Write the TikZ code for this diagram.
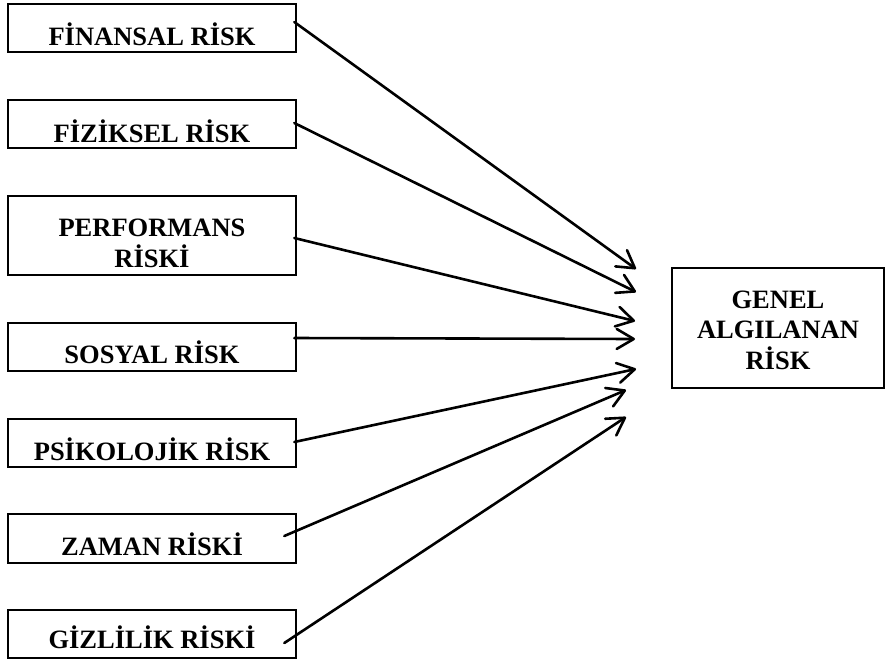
\documentclass[tikz,border=0pt]{standalone}
\usepackage{fontspec}
\setmainfont{Liberation Serif}
\usetikzlibrary{arrows.meta}
\begin{document}
\begin{tikzpicture}[x=1pt,y=-1pt,
  box/.style={draw, line width=2.6pt, inner sep=0pt, minimum width=288pt, minimum height=48pt},
  lbl/.style={font=\bfseries\fontsize{26.5}{30.5}\selectfont, anchor=base, inner sep=0pt, align=center},
  arr/.style={line width=2.6pt, line join=round, line cap=round, -{Straight Barb[length=17pt,width=20pt,round]}}]
\useasboundingbox (0,0) rectangle (886,659);
% boxes
\node[box] (b1) at (152,28) {};
\node[box] (b2) at (152,124) {};
\node[box, minimum height=79pt] (b3) at (152,235.5) {};
\node[box] (b4) at (152,347) {};
\node[box] (b5) at (152,443) {};
\node[box, minimum height=49pt] (b6) at (152,538.5) {};
\node[box] (b7) at (152,634) {};
\node[box, minimum width=212pt, minimum height=120pt] (g) at (778,328) {};
% labels
\node[lbl] (l1) at (152,45) {FİNANSAL RİSK};
\node[lbl] (l2) at (152,142) {FİZİKSEL RİSK};
\node[lbl] (l3) at (152,267) {PERFORMANS\\RİSKİ};
\node[lbl] (l4) at (152,363) {SOSYAL RİSK};
\node[lbl] (l5) at (152,460) {PSİKOLOJİK RİSK};
\node[lbl] (l6) at (152,555) {ZAMAN RİSKİ};
\node[lbl] (l7) at (152,648) {GİZLİLİK RİSKİ};
\node[lbl] (lg) at (778,369) {GENEL\\ALGILANAN\\RİSK};
% arrow tips
\coordinate (t1) at (636,269);
\coordinate (t2) at (636,292);
\coordinate (t3) at (635,321);
\coordinate (t4) at (635,339);
\coordinate (t5) at (636,369);
\coordinate (t6) at (626,390);
\coordinate (t7) at (626,417);
% arrows
\draw[arr] ([xshift=-3pt,yshift=6pt]b1.east) -- (t1);
\draw[arr] ([xshift=-3pt,yshift=1pt]b2.east) -- (t2);
\draw[arr] ([xshift=-3pt,yshift=-2.5pt]b3.east) -- (t3);
\draw[arr] ([xshift=-3pt,yshift=9pt]b4.east) -- (t4);
\draw[arr] ([xshift=-3pt,yshift=1pt]b5.east) -- (t5);
\draw[arr] ([xshift=-13pt,yshift=2.5pt]b6.east) -- (t6);
\draw[arr] ([xshift=-13pt,yshift=-9pt]b7.east) -- (t7);
\end{tikzpicture}
\end{document}
